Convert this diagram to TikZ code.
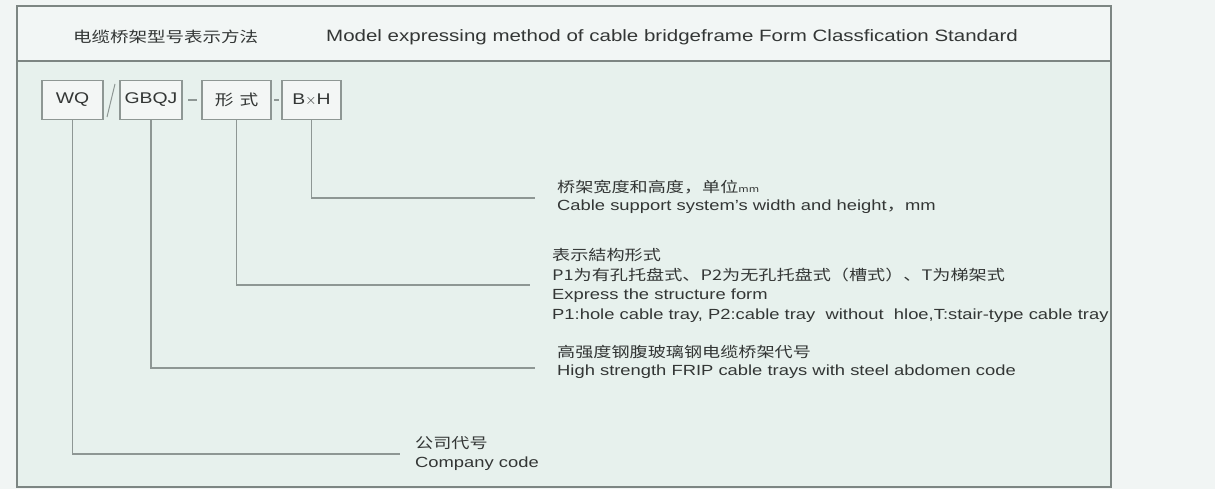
\documentclass[tikz,border=0pt]{standalone}
\usepackage{fontspec}
\setmainfont[FakeStretch=1.25]{Liberation Sans}
\newfontfamily\cjk[FakeStretch=1.25]{Noto Sans CJK SC}
\usetikzlibrary{positioning}

\definecolor{pagebg}{HTML}{F1F5F4}
\definecolor{headbg}{HTML}{F2F6F5}
\definecolor{bodybg}{HTML}{E7F1ED}
\definecolor{framegray}{HTML}{7D8683}
\definecolor{leadgray}{HTML}{8E9794}
\definecolor{inkgray}{HTML}{333635}
\definecolor{boxbg}{HTML}{F3F6F5}

\begin{document}
\begin{tikzpicture}[x=1pt,y=-1pt,
    every node/.style={inner sep=0pt,text=inkgray},
    codebox/.style={draw=leadgray,line width=1.3pt,fill=boxbg,
      minimum width=61pt,minimum height=39pt,font=\fontsize{15.5}{17}\selectfont},
    lead/.style={draw=leadgray,line width=1.5pt},
    desc/.style={anchor=west,font=\fontsize{14.7}{16}\selectfont},
    desccn/.style={anchor=west,font=\cjk\fontsize{14.5}{16}\selectfont}]

\useasboundingbox (0,0) rectangle (1215,489);
\fill[pagebg] (0,0) rectangle (1215,489);

% Frame and header band
\fill[headbg] (17,6) rectangle (1111,61);
\fill[bodybg] (17,61) rectangle (1111,487);
\draw[framegray,line width=1.8pt] (17,6) rectangle (1111,487);
\draw[framegray,line width=1.5pt] (17,61) -- (1111,61);

\node[anchor=west,font=\cjk\fontsize{14.8}{16}\selectfont] (titlecn) at (73,37) {电缆桥架型号表示方法};
\node[anchor=west,font=\fontsize{16.4}{18}\selectfont] (titleen) at (326,37)
  {Model expressing method of cable bridgeframe Form Classfication Standard};

%========================
% Model code boxes
%========================
\node[codebox] (wq) at (72.5,100) {WQ};
\node[codebox,minimum width=62pt] (gbqj) at (151,100) {GBQJ};
\node[codebox,minimum width=69pt,font=\cjk\fontsize{15}{17}\selectfont] (form) at (236.5,100) {形\hspace{6pt}式};
\node[codebox,minimum width=59pt] (bh) at (311.5,100) {B$\times$H};

% Separators
\draw[leadgray,line width=1pt] (107,117) -- (115,84);
\draw[leadgray,line width=1.2pt] (188,100) -- (197,100);
\draw[leadgray,line width=1.2pt] (274,100) -- (279,100);

%========================
% Leaders
%========================
\coordinate (bhend) at (535,198);
\coordinate (formend) at (530,285);
\coordinate (gbqjend) at (535,368);
\coordinate (wqend) at (400,454);

\draw[lead] (bh.south) |- (bhend);
\draw[lead] (form.south) |- (formend);
\draw[lead] (gbqj.south) |- (gbqjend);
\draw[lead] (wq.south) |- (wqend);

%========================
% Descriptions
%========================
% B x H
\node[desccn] (bhcn) at (557,187) {桥架宽度和高度，单位{\fontsize{9}{10}\selectfont mm}};
\node[desc] (bhen) at (557,207) {Cable support system's width and height{\cjk ，}mm};

% Form
\node[desccn] (formcn) at (552,255) {表示結构形式};
\node[desccn] (formcnb) at (552,275) {P1为有孔托盘式、P2为无孔托盘式（槽式）、T为梯架式};
\node[desc] (formen) at (552,296) {Express the structure form};
\node[desc] (formenb) at (552,316) {P1:hole cable tray, P2:cable tray\ \ without\ \ hloe,T:stair-type cable tray};

% GBQJ
\node[desccn] (gbqjcn) at (557,352) {高强度钢腹玻璃钢电缆桥架代号};
\node[desc] (gbqjen) at (557,372) {High strength FRIP cable trays with steel abdomen code};

% WQ
\node[desccn] (wqcn) at (415,443) {公司代号};
\node[desc] (wqen) at (415,464) {Company code};

\end{tikzpicture}
\end{document}
